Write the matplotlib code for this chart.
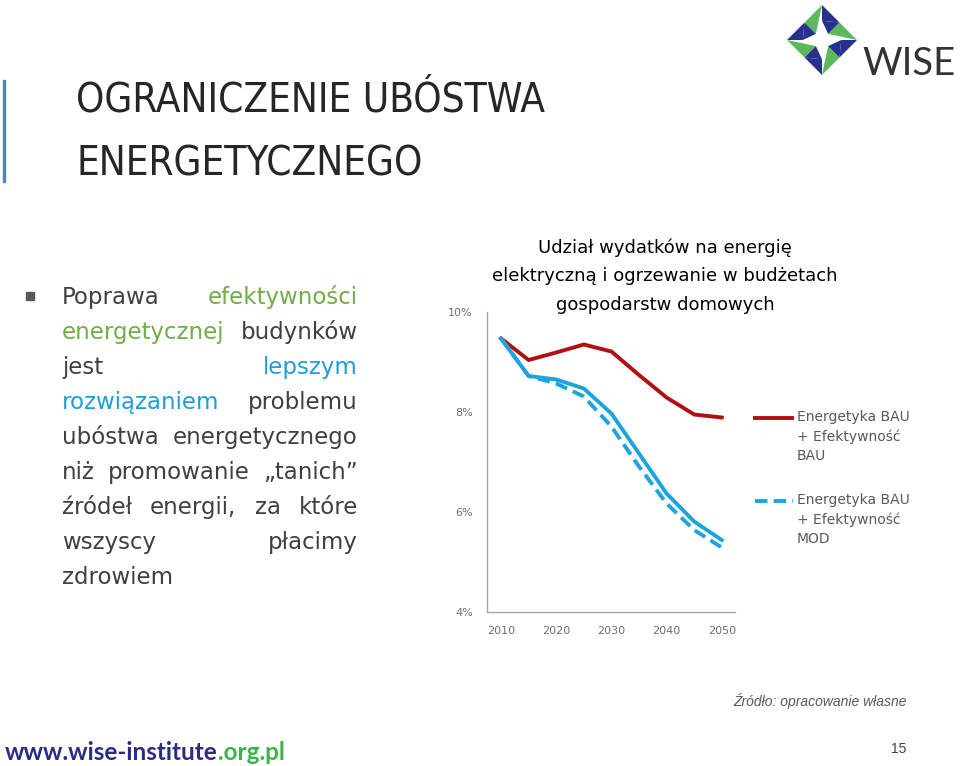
import matplotlib
matplotlib.use("Agg")
import matplotlib.pyplot as plt
from matplotlib.patches import Polygon, Rectangle

W, H = 960, 766

years = [2010, 2015, 2020, 2025, 2030, 2035, 2040, 2045, 2050]
bau_bau = [9.47, 9.04, 9.19, 9.35, 9.21, 8.74, 8.29, 7.95, 7.89]
bau_ef = [9.47, 8.72, 8.65, 8.47, 7.97, 7.17, 6.37, 5.81, 5.44]
bau_mod = [9.47, 8.72, 8.57, 8.31, 7.71, 6.91, 6.17, 5.64, 5.29]
x_ticks = [2010, 2020, 2030, 2040, 2050]
y_ticks = [4, 6, 8, 10]

title_lines = ["OGRANICZENIE UBÓSTWA", "ENERGETYCZNEGO"]
chart_title = "Udział wydatków na energię\nelektryczną i ogrzewanie w budżetach\ngospodarstw domowych"
legend_labels = ["Energetyka BAU\n+ Efektywność\nBAU", "Energetyka BAU\n+ Efektywność\nMOD"]

GRAY = "#404040"
GREEN = "#70ad47"
BLUE = "#1e9fd8"
body_lines = [
    [("Poprawa", GRAY), ("efektywności", GREEN)],
    [("energetycznej", GREEN), ("budynków", GRAY)],
    [("jest", GRAY), ("lepszym", BLUE)],
    [("rozwiązaniem", BLUE), ("problemu", GRAY)],
    [("ubóstwa", GRAY), ("energetycznego", GRAY)],
    [("niż", GRAY), ("promowanie", GRAY), ("„tanich”", GRAY)],
    [("źródeł", GRAY), ("energii,", GRAY), ("za", GRAY), ("które", GRAY)],
    [("wszyscy", GRAY), ("płacimy", GRAY)],
    [("zdrowiem", GRAY)],
]

RED = "#b01010"
LBLUE = "#1ea4dc"

fig = plt.figure(figsize=(W / 100, H / 100), dpi=100)
fig.patch.set_facecolor("white")


def fx(px):
    return px / W


def fy(py):
    return 1 - py / H


# slide title
fig.add_artist(Rectangle((fx(3), fy(182)), fx(2), 102 / H, color="#3a8fc8",
                         transform=fig.transFigure))
for i, t in enumerate(title_lines):
    fig.text(fx(76), fy(112 + 63 * i), t, fontsize=29, color="#262626",
             family="DejaVu Sans", fontstretch="condensed",
             va="baseline", ha="left")

# bullet text, justified between x=62 and x=358
fig.add_artist(Rectangle((fx(26), fy(300)), fx(8), 8 / H, color="#595959",
                         transform=fig.transFigure))
renderer = fig.canvas.get_renderer()
left, right = 62, 358
for i, words in enumerate(body_lines):
    yb = fy(304 + 35 * i)
    texts = [fig.text(0, yb, w, fontsize=16.5, color=c, va="baseline",
                      ha="left", family="DejaVu Sans") for w, c in words]
    widths = [t.get_window_extent(renderer).width for t in texts]
    if len(texts) == 1:
        texts[0].set_x(fx(left))
        continue
    gap = (right - left - sum(widths)) / (len(texts) - 1)
    x = left
    for t, w in zip(texts, widths):
        t.set_x(fx(x))
        x += w + gap

# chart
ax = fig.add_axes([fx(486.7), fy(612), fx(735) - fx(486.7), 300 / H])
ax.plot(years, bau_bau, color=RED, lw=2.8, solid_joinstyle="round")
ax.plot(years, bau_ef, color=LBLUE, lw=2.8, solid_joinstyle="round")
ax.plot(years, bau_mod, color=LBLUE, lw=2.8, dashes=(3.2, 1.6))
ax.set_xlim(2007.4, 2052.4)
ax.set_ylim(4, 10)
ax.set_xticks(x_ticks)
ax.set_yticks(y_ticks)
ax.set_yticklabels([f"{v}%" for v in y_ticks])
ax.tick_params(length=0, labelsize=8, labelcolor="#6f6f6f", pad=10)
for s in ["top", "right"]:
    ax.spines[s].set_visible(False)
for s in ["left", "bottom"]:
    ax.spines[s].set_color("#a6a6a6")
    ax.spines[s].set_linewidth(1)

fig.text(fx(665), fy(276), chart_title, fontsize=13, color="black",
         ha="center", va="center", linespacing=1.75)

# legend
for i, (lab, col) in enumerate(zip(legend_labels, [RED, LBLUE])):
    y0 = 418 + 83 * i
    if i == 0:
        fig.add_artist(plt.Line2D([fx(755), fx(792)], [fy(y0), fy(y0)],
                                  color=col, lw=2.8, transform=fig.transFigure))
    else:
        fig.add_artist(plt.Line2D([fx(755), fx(793)], [fy(y0), fy(y0)],
                                  color=col, lw=2.8, dashes=(3.2, 1.6),
                                  transform=fig.transFigure))
    fig.text(fx(797), fy(y0 - 8), lab, fontsize=10, color="#595959",
             ha="left", va="top", linespacing=1.45)

# logo
cx, cy, r = 822, 40, 35
pts = [(cx, cy - r), (cx + r, cy), (cx, cy + r), (cx - r, cy)]
for k in range(4):
    a = pts[k]
    b = pts[(k + 1) % 4]
    m = ((a[0] + b[0]) / 2, (a[1] + b[1]) / 2)
    inner = (cx + (m[0] - cx) * 0.35, cy + (m[1] - cy) * 0.35)
    qa = (a[0] + (cx - a[0]) * 0.45, a[1] + (cy - a[1]) * 0.45)
    tri1 = [a, m, qa]
    tri2 = [m, b, inner]
    tri3 = [m, inner, qa]
    for tri, col in [(tri1, "#25318c"), (tri2, "#5cb85c"), (tri3, "#25318c")]:
        fig.add_artist(Polygon([(fx(p[0]), fy(p[1])) for p in tri], closed=True,
                               color=col, transform=fig.transFigure, lw=0))
fig.text(fx(862), fy(75), "WISE", fontsize=27.5, color="#333333",
         family="Lato", ha="left", va="baseline")

# footer
fig.text(fx(907), fy(706), "Źródło: opracowanie własne", fontsize=10,
         style="italic", color="#595959", family="Liberation Sans",
         ha="right", va="baseline")
fig.text(fx(906), fy(753), "15", fontsize=10, color="#404040",
         family="Liberation Sans", ha="right", va="baseline")
t1 = fig.text(fx(5), fy(760), "www.wise-institute", fontsize=17.5, color="#2b2c84",
              weight="bold", family="Lato", ha="left", va="baseline")
w1 = t1.get_window_extent(renderer).width
fig.text(fx(5 + w1), fy(760), ".org.pl", fontsize=17.5, color="#39b54a",
         weight="bold", family="Lato", ha="left", va="baseline")

fig.savefig("out.png", dpi=100, facecolor="white")
